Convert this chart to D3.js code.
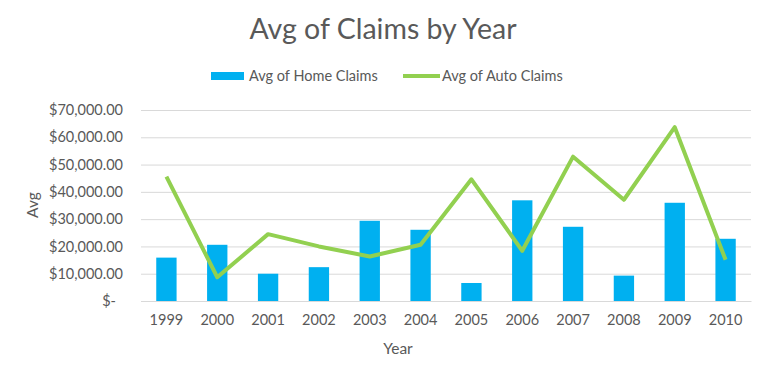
<!DOCTYPE html>
<html>
<head>
<meta charset="utf-8">
<script src="https://cdn.jsdelivr.net/npm/d3@7"></script>
<style>
  body { margin: 0; background: #fff; }
  text { font-family: Lato, "Open Sans", sans-serif; fill: #595959; }
</style>
</head>
<body>
<svg id="chart" width="768" height="378"></svg>
<script>
"use strict";

const years = ["1999","2000","2001","2002","2003","2004","2005","2006","2007","2008","2009","2010"];
const homeClaims = [15900, 20600, 10000, 12400, 29400, 26100, 6600, 36900, 27200, 9300, 36000, 22800];
const autoClaims = [45600, 8700, 24500, 20000, 16300, 20600, 44600, 18400, 52900, 37100, 63700, 15100];
const yTicks = [0, 10000, 20000, 30000, 40000, 50000, 60000, 70000];

const svg = d3.select("#chart");
const margin = { top: 110, right: 17, bottom: 77, left: 141 };
const width = 768 - margin.left - margin.right;
const height = 378 - margin.top - margin.bottom;

const chart = svg.append("g").attr("transform", `translate(${margin.left},${margin.top})`);

const scaleX = d3.scaleBand().domain(years).range([0, width]).paddingInner(0.6).paddingOuter(0.3);
const scaleY = d3.scaleLinear().domain([0, 70000]).range([height, 0]);

// grid
chart.append("g")
  .attr("class", "yGrid grid")
  .call(d3.axisLeft(scaleY).tickValues(yTicks).tickSize(-width).tickFormat(""))
  .call(g => g.select(".domain").remove());
chart.selectAll("g.grid line").attr("stroke", "#d9d9d9").attr("stroke-width", 1);

// y labels
const fmt = d3.format(",.2f");
chart.append("g")
  .call(d3.axisLeft(scaleY).tickValues(yTicks).tickSize(0).tickPadding(18)
    .tickFormat(d => d === 0 ? "$-" : "$" + fmt(d)))
  .call(g => g.select(".domain").remove())
  .selectAll("text")
  .attr("font-size", 14.5)
  .attr("dx", d => d === 0 ? -7 : 0);

// x labels
chart.append("g")
  .attr("transform", `translate(0,${height})`)
  .call(d3.axisBottom(scaleX).tickSize(0).tickPadding(14))
  .call(g => g.select(".domain").attr("stroke", "#d9d9d9"))
  .selectAll("text")
  .attr("font-size", 14.5);

// bars
chart.selectAll("rect.bar")
  .data(homeClaims)
  .enter().append("rect")
  .attr("class", "bar")
  .attr("x", (d, i) => scaleX(years[i]))
  .attr("width", scaleX.bandwidth())
  .attr("y", d => scaleY(d))
  .attr("height", d => height - scaleY(d))
  .attr("fill", "#00b0f0");

// line
const line = d3.line()
  .x((d, i) => scaleX(years[i]) + scaleX.bandwidth() / 2)
  .y(d => scaleY(d));
chart.append("path")
  .datum(autoClaims)
  .attr("d", line)
  .attr("fill", "none")
  .attr("stroke", "#92d050")
  .attr("stroke-width", 4)
  .attr("stroke-linejoin", "round");

// title
svg.append("text")
  .attr("x", 383).attr("y", 39)
  .attr("text-anchor", "middle")
  .attr("font-size", 28.5)
  .text("Avg of Claims by Year");

// axis titles
svg.append("text")
  .attr("x", 398).attr("y", 354)
  .attr("text-anchor", "middle")
  .attr("font-size", 15.5)
  .text("Year");
svg.append("text")
  .attr("transform", "translate(38,205) rotate(-90)")
  .attr("text-anchor", "middle")
  .attr("font-size", 15.5)
  .text("Avg");

// legend
const legend = svg.append("g");
legend.append("rect").attr("x", 211).attr("y", 72).attr("width", 33).attr("height", 8).attr("fill", "#00b0f0");
legend.append("text").attr("x", 249).attr("y", 81).attr("font-size", 14.5).text("Avg of Home Claims");
legend.append("line").attr("x1", 403).attr("x2", 440).attr("y1", 76).attr("y2", 76)
  .attr("stroke", "#92d050").attr("stroke-width", 4);
legend.append("text").attr("x", 442).attr("y", 81).attr("font-size", 14.5).text("Avg of Auto Claims");
</script>
</body>
</html>
